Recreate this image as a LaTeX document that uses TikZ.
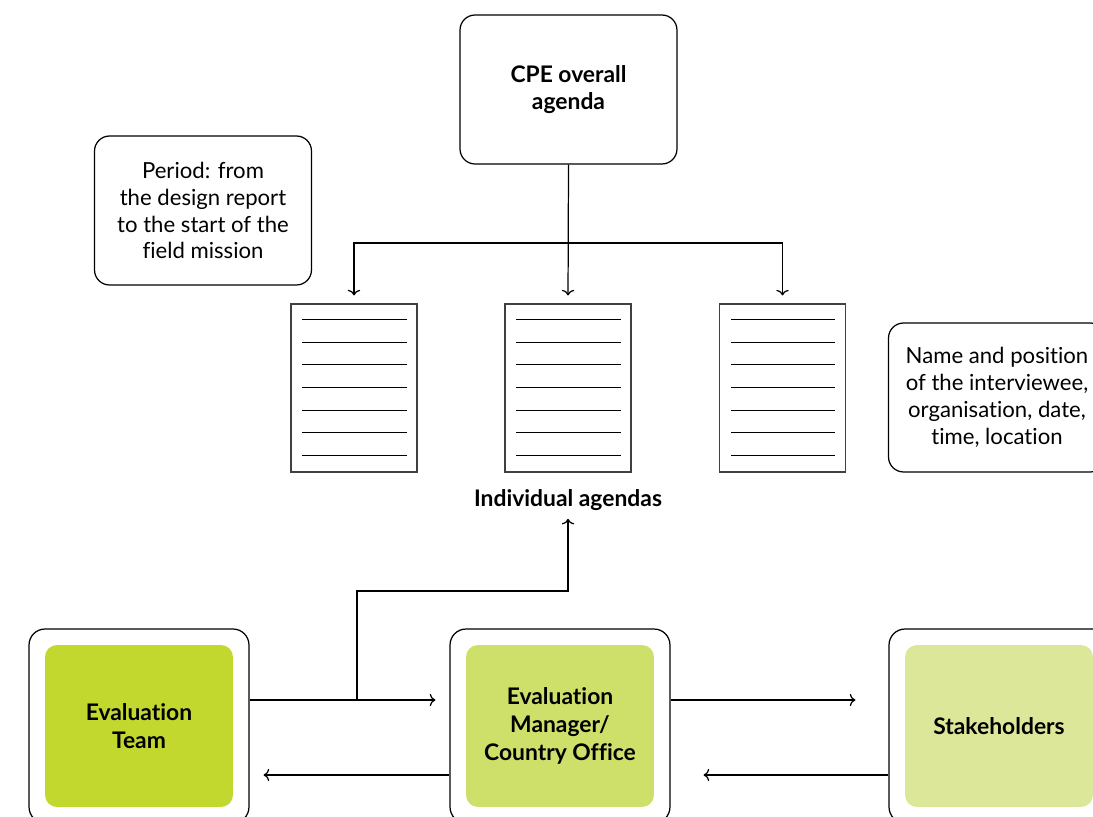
\documentclass[tikz,border=0pt]{standalone}
\usepackage{fontspec}
\setmainfont{Lato}[Ligatures=NoCommon]
\usetikzlibrary{calc,arrows.meta}

\definecolor{teamgreen}{HTML}{C2D82F}
\definecolor{officegreen}{HTML}{CEDF6A}
\definecolor{holdergreen}{HTML}{DDE79A}

\tikzset{
  roundbox/.style = {draw, line width=0.7pt, rounded corners=0.3cm, align=center,
    minimum width=4.34cm, minimum height=2.98cm, font=\fontsize{12.6}{15.3}\selectfont},
  docpage/.style = {draw=black!75, line width=0.6pt, minimum width=2.52cm, minimum height=3.36cm},
  outerbox/.style = {draw, line width=0.7pt, rounded corners=0.32cm,
    minimum width=4.4cm, minimum height=3.88cm},
  actor/.style = {fill=#1, rounded corners=0.24cm, align=center,
    minimum width=3.76cm, minimum height=3.24cm, font=\fontsize{13}{15.8}\selectfont\bfseries},
  arr/.style = {-{To[length=3.2pt,width=7pt]}, line width=0.7pt}
}

\begin{document}
\begin{tikzpicture}[x=0.02cm, y=-0.02cm]
\clip (0,0) rectangle (1093,817);
\useasboundingbox (0,0) rectangle (1093,817);

% top part
\node [roundbox, font=\fontsize{13}{15.8}\selectfont\bfseries] (cpe) at (568.5,89.5) {CPE overall\\agenda};
\node [roundbox] (period) at (203,210.5) {Period: from\\the design report\\to the start of the\\field mission};
\node [roundbox] (info) at (997,397.5) {Name and position\\of the interviewee,\\organisation, date,\\time, location};

\node [docpage] (doc1) at (354,388) {};
\node [docpage] (doc2) at (568,388) {};
\node [docpage] (doc3) at (782.5,388) {};
\foreach \d in {doc1,doc2,doc3}
  \foreach \k in {0,...,6}
    \draw [line width=0.6pt] ($(\d.north west)+(12,16+22.67*\k)$) -- ($(\d.north east)+(-11,16+22.67*\k)$);

\node [font=\fontsize{13}{15.8}\selectfont\bfseries] (agendas) at (568,500) {Individual agendas};

\coordinate (split) at (568,243);
\draw [arr, shorten >=0.16cm] (cpe.south) -- (doc2.north);
\draw [arr, shorten >=0.16cm] (split) -| (doc1.north);
\draw [arr, shorten >=0.16cm] (split) -| (doc3.north);

% bottom part
\node [outerbox] (teamout) at (139,726) {};
\node [actor=teamgreen] (team) at (teamout) {Evaluation\\Team};
\node [outerbox] (officeout) at (560,726) {};
\node [actor=officegreen] (office) at (officeout) {Evaluation\\Manager/\\Country Office};
\node [outerbox] (holderout) at (999,726) {};
\node [actor=holdergreen] (holder) at (holderout) {Stakeholders};

\draw [arr, shorten >=0.28cm] ([yshift=0.52cm]teamout.east) -- ([yshift=0.52cm]officeout.west);
\draw [arr, shorten >=0.66cm] ([yshift=0.52cm]officeout.east) -- ([yshift=0.52cm]holderout.west);
\draw [arr, shorten >=0.66cm] ([yshift=-0.98cm]holderout.west) -- ([yshift=-0.98cm]officeout.east);
\draw [arr, shorten >=0.28cm] ([yshift=-0.98cm]officeout.west) -- ([yshift=-0.98cm]teamout.east);

\coordinate (fork) at (357,700);
\draw [arr, shorten >=0.04cm] (fork) -- ++(0,-109) -| (agendas.south);

\end{tikzpicture}
\end{document}
